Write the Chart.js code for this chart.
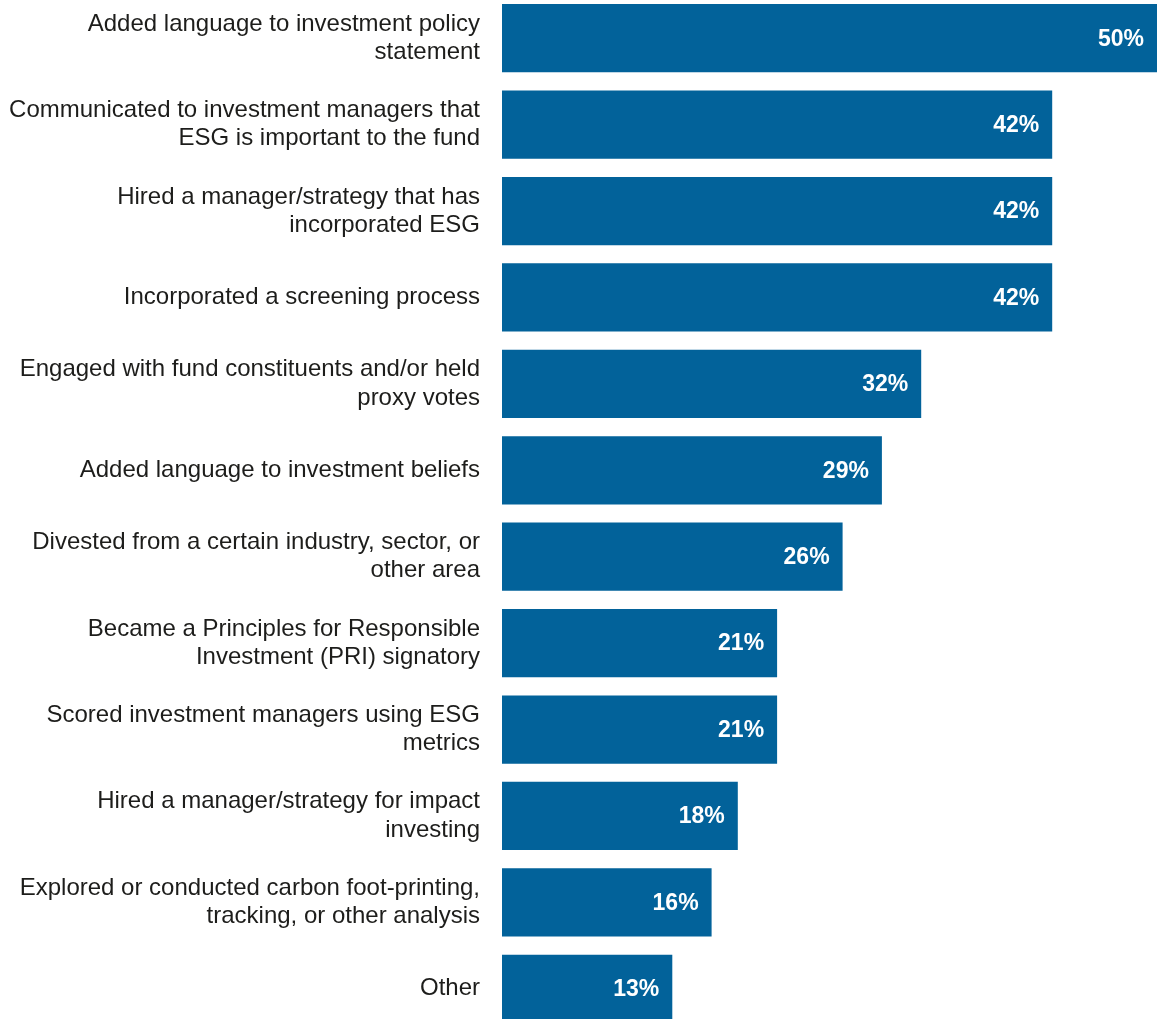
<!DOCTYPE html>
<html lang="en">
<head>
    <meta charset="UTF-8">
    <title>ESG Actions Taken</title>
    <script src="https://cdn.jsdelivr.net/npm/chart.js"></script>
    <style>
        html, body {
            margin: 0;
            padding: 0;
            background: #ffffff;
            overflow: hidden;
        }

        .chart-container {
            position: absolute;
            left: 0;
            top: -5px;
            width: 1157px;
            height: 1037px;
        }
    </style>
</head>
<body>
    <div class="chart-container">
        <canvas id="barChart"></canvas>
    </div>

    <script>
        // Categories (multi-line labels as arrays)
        var actions = [
            ['Added language to investment policy', 'statement'],
            ['Communicated to investment managers that', 'ESG is important to the fund'],
            ['Hired a manager/strategy that has', 'incorporated ESG'],
            'Incorporated a screening process',
            ['Engaged with fund constituents and/or held', 'proxy votes'],
            'Added language to investment beliefs',
            ['Divested from a certain industry, sector, or', 'other area'],
            ['Became a Principles for Responsible', 'Investment (PRI) signatory'],
            ['Scored investment managers using ESG', 'metrics'],
            ['Hired a manager/strategy for impact', 'investing'],
            ['Explored or conducted carbon foot-printing,', 'tracking, or other analysis'],
            'Other'
        ];

        // Share of respondents (%)
        var shares = [50, 42, 42, 42, 32, 29, 26, 21, 21, 18, 16, 13];

        var axisMin = 0;
        var axisMax = 50;

        // Writes the percentage inside the end of each bar
        var valueLabels = {
            id: 'valueLabels',
            afterDatasetsDraw: function(chart) {
                var ctx = chart.ctx;
                var meta = chart.getDatasetMeta(0);
                ctx.save();
                ctx.font = 'bold 23px "Liberation Sans", Arial, sans-serif';
                ctx.fillStyle = '#ffffff';
                ctx.textAlign = 'right';
                ctx.textBaseline = 'middle';
                meta.data.forEach(function(bar, i) {
                    ctx.fillText(shares[i] + '%', bar.x - 13, bar.y + 1);
                });
                ctx.restore();
            }
        };

        var ctxBar = document.getElementById('barChart').getContext('2d');
        var barChart = new Chart(ctxBar, {
            type: 'bar',
            data: {
                labels: actions,
                datasets: [{
                    data: shares,
                    backgroundColor: '#02629a',
                    borderWidth: 0,
                    barPercentage: 0.79,
                    categoryPercentage: 1.0
                }]
            },
            options: {
                indexAxis: 'y',
                responsive: true,
                maintainAspectRatio: false,
                animation: false,
                layout: { padding: 0 },
                plugins: {
                    legend: { display: false },
                    tooltip: { enabled: false }
                },
                scales: {
                    x: {
                        display: false,
                        min: axisMin,
                        max: axisMax
                    },
                    y: {
                        grid: { display: false, drawTicks: false },
                        border: { display: false },
                        afterFit: function(scale) {
                            scale.width = 502; // fixed space for the long labels
                            scale.paddingTop = 0;
                            scale.paddingBottom = 0;
                        },
                        ticks: {
                            padding: 22,
                            color: '#1d1d1b',
                            font: {
                                family: '"Liberation Sans", Arial, sans-serif',
                                size: 24,
                                lineHeight: 1.18
                            }
                        }
                    }
                }
            },
            plugins: [valueLabels]
        });
    </script>
</body>
</html>
